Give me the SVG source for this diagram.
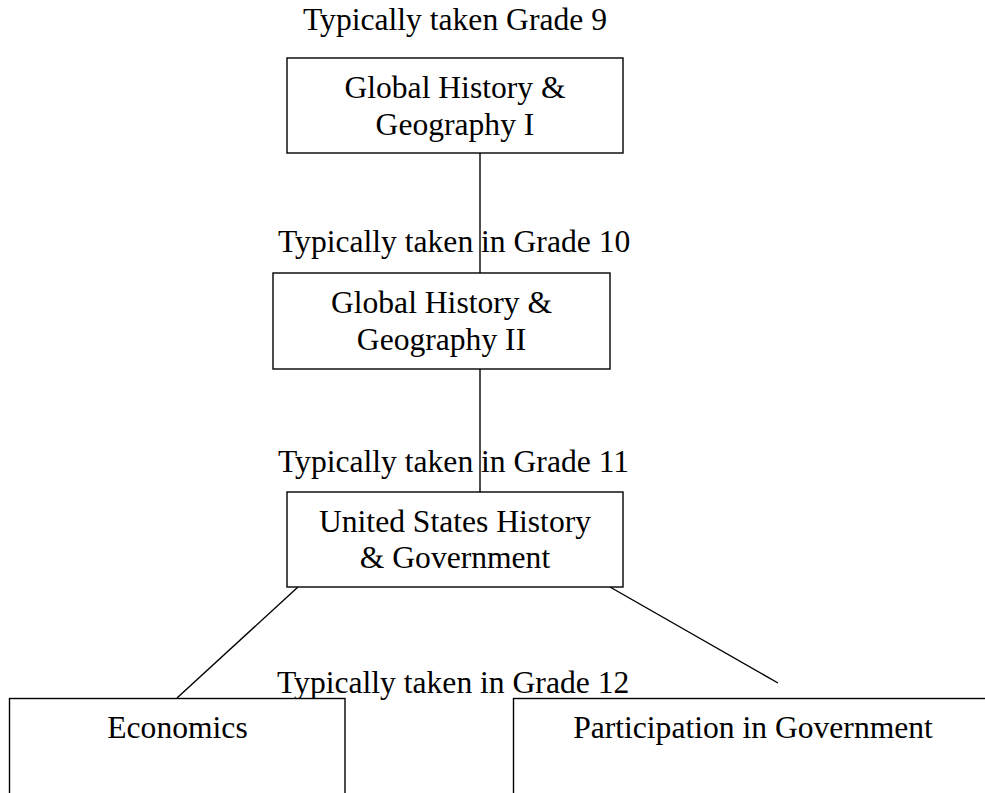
<svg xmlns="http://www.w3.org/2000/svg" width="985" height="793" viewBox="0 0 985 793">
<style>
  .box { fill: #ffffff; stroke: #000000; stroke-width: 1.4; }
  .conn { stroke: #000000; stroke-width: 1.4; fill: none; }
  text { font-family: "Liberation Serif", "Times New Roman", serif; font-size: 31.6px; fill: #000000; }
  .c { text-anchor: middle; }
</style>
<rect x="0" y="0" width="985" height="793" fill="#ffffff"/>
<g id="connectors">
  <line class="conn" x1="480" y1="153" x2="480" y2="273"/>
  <line class="conn" x1="480" y1="369" x2="480" y2="492"/>
  <line class="conn" x1="298" y1="587" x2="177" y2="698"/>
  <line class="conn" x1="610" y1="587" x2="778" y2="683"/>
</g>
<g id="labels">
  <text class="c" x="455" y="30">Typically taken Grade 9</text>
  <text x="278" y="252">Typically taken in Grade 10</text>
  <text x="278" y="472">Typically taken in Grade 11</text>
  <text x="277" y="693">Typically taken in Grade 12</text>
</g>
<g id="node-global1">
  <rect class="box" x="287" y="58" width="336" height="95"/>
  <text class="c" x="455" y="98">Global History &amp;</text>
  <text class="c" x="455" y="135">Geography I</text>
</g>
<g id="node-global2">
  <rect class="box" x="273" y="273" width="337" height="96"/>
  <text class="c" x="441.5" y="313">Global History &amp;</text>
  <text class="c" x="441.5" y="350">Geography II</text>
</g>
<g id="node-ushistory">
  <rect class="box" x="287" y="492" width="336" height="95"/>
  <text class="c" x="455" y="532">United States History</text>
  <text class="c" x="455" y="568">&amp; Government</text>
</g>
<g id="node-economics">
  <rect class="box" x="9.5" y="698.5" width="335.5" height="200"/>
  <text class="c" x="177.5" y="738">Economics</text>
</g>
<g id="node-participation">
  <rect class="box" x="513.5" y="698.5" width="500" height="200"/>
  <text class="c" x="753" y="738">Participation in Government</text>
</g>
</svg>
